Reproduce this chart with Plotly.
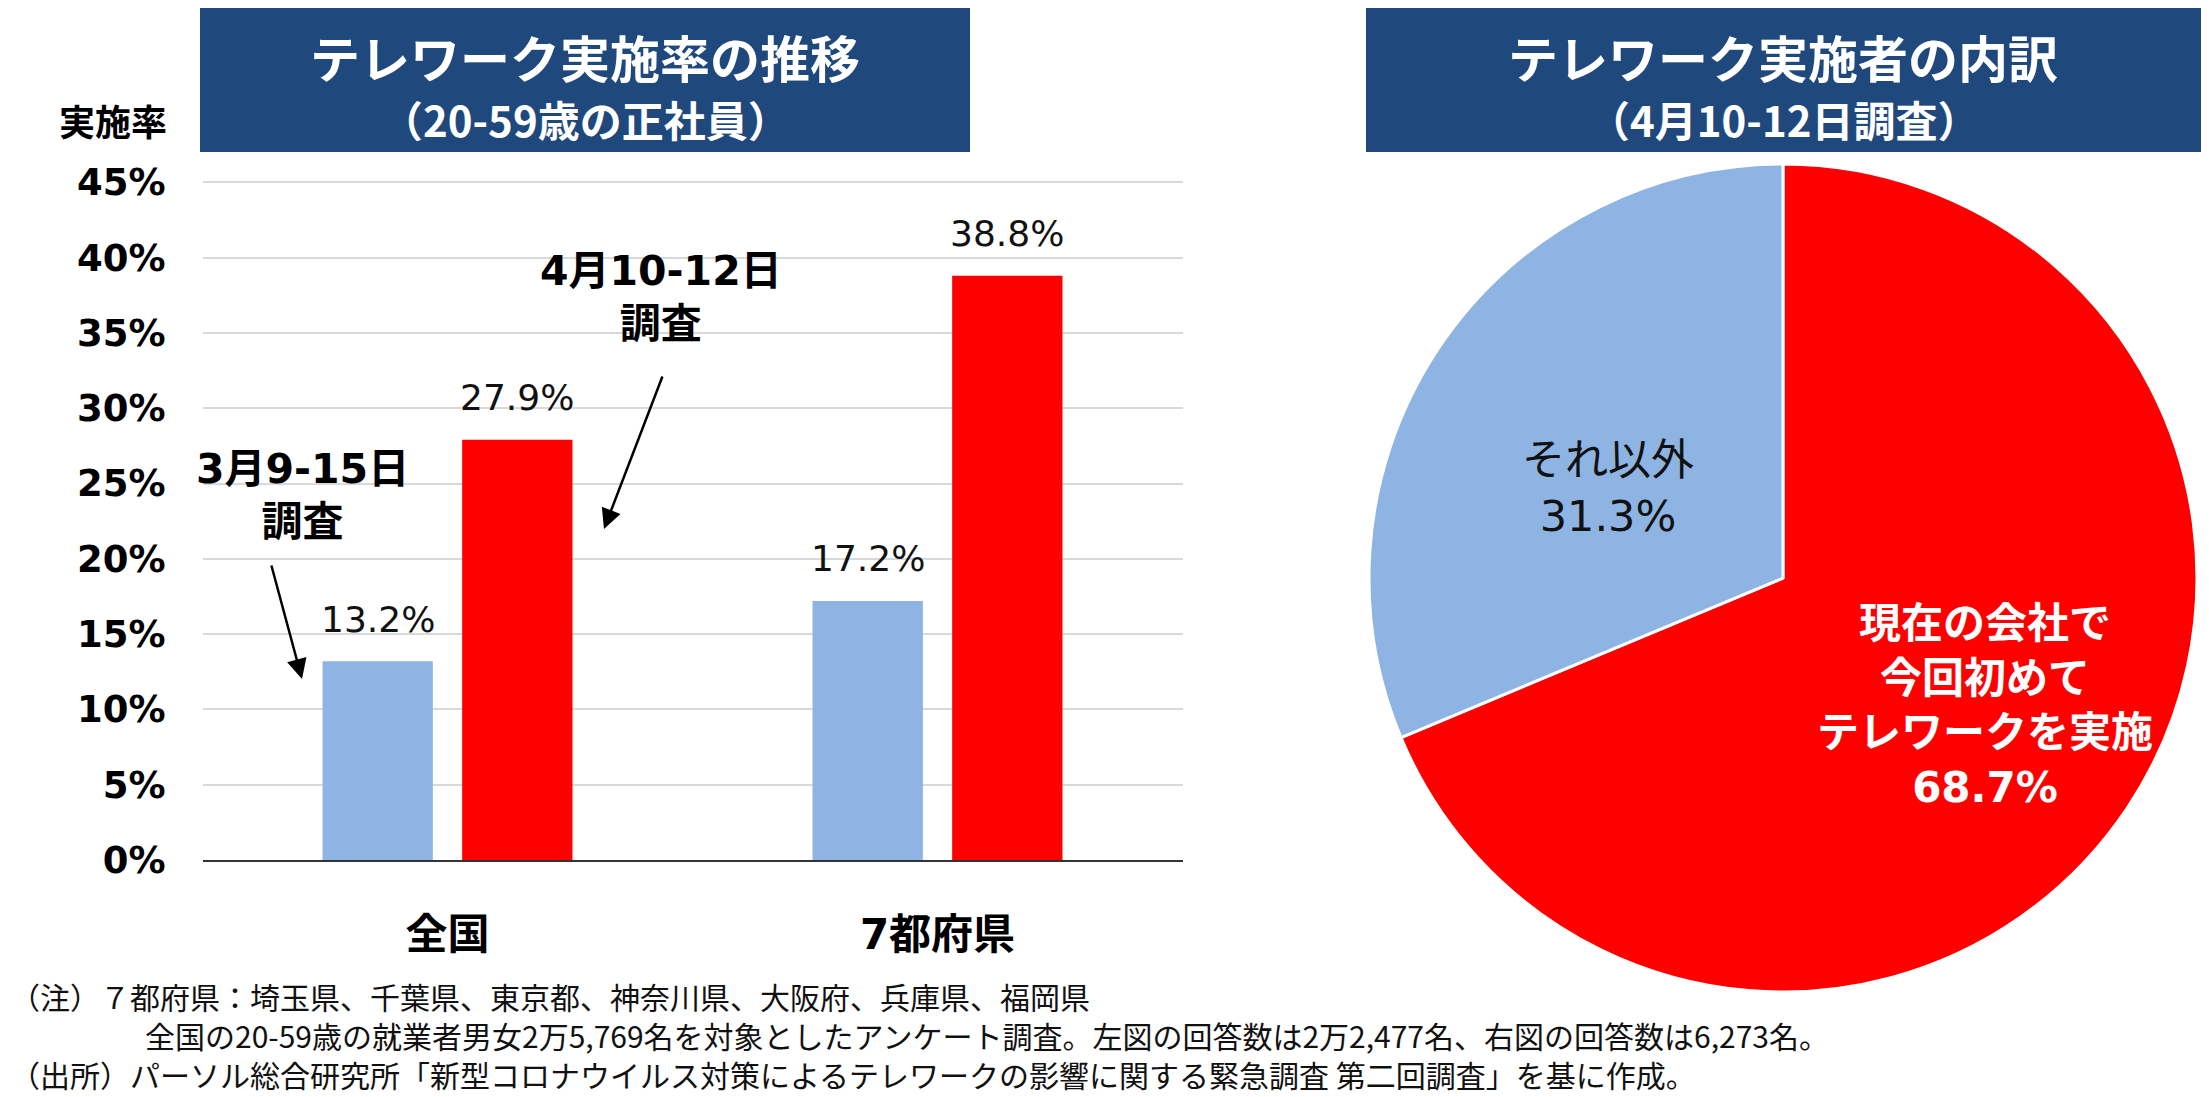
import plotly.graph_objects as go

# ---- data ----
categories = ["全国", "7都府県"]
march_rates = [0.132, 0.172]   # 3月9-15日調査
april_rates = [0.279, 0.388]   # 4月10-12日調査
survey_labels = ["3月9-15日<br>調査", "4月10-12日<br>調査"]

pie_labels = ["現在の会社で<br>今回初めて<br>テレワークを実施", "それ以外"]
pie_values = [68.7, 31.3]

left_title = "テレワーク実施率の推移"
left_subtitle = "（20-59歳の正社員）"
right_title = "テレワーク実施者の内訳"
right_subtitle = "（4月10-12日調査）"
y_label = "実施率"

notes = [
    "（注）７都府県：埼玉県、千葉県、東京都、神奈川県、大阪府、兵庫県、福岡県",
    "\u3000\u3000\u3000\u3000\u2002全国の20-59歳の就業者男女2万5,769名を対象としたアンケート調査。左図の回答数は2万2,477名、右図の回答数は6,273名。",
    "（出所）パーソル総合研究所「新型コロナウイルス対策によるテレワークの影響に関する緊急調査 第二回調査」を基に作成。",
]

# ---- page geometry (pixels) ----
W, H = 2209, 1097
OFFSET = 8  # the page body adds a small margin around the figure
JP = "Noto Sans CJK JP"
MIX = "DejaVu Sans, Noto Sans CJK JP"
NAVY = "#1F497D"
LIGHT_BLUE = "#8EB4E3"
RED = "#FF0000"


def px(x):
    return (x - OFFSET) / W


def py(y):
    return 1 - (y - OFFSET) / H


def label(x, y, text, font, **kw):
    # centred text placed in page pixels
    d = dict(x=px(x), y=py(y), xref="paper", yref="paper", text=text,
             showarrow=False, xanchor="center", yanchor="middle", font=font)
    d.update(kw)
    return d


plot_left, plot_right = 202.5, 1182.5
bargap = 0.43
group_offset = (plot_right - plot_left) / len(categories) * (1 - bargap) / 4

fig = go.Figure()

fig.add_trace(go.Bar(
    x=categories, y=march_rates, name="3月9-15日調査",
    marker=dict(color=LIGHT_BLUE, line=dict(width=0)),
    xaxis="x", yaxis="y",
))
fig.add_trace(go.Bar(
    x=categories, y=april_rates, name="4月10-12日調査",
    marker=dict(color=RED, line=dict(width=0)),
    xaxis="x", yaxis="y",
))

# pie: red slice starts at 12 o'clock, clockwise
pie_cx, pie_cy, pie_r = 1783, 578, 414
fig.add_trace(go.Pie(
    labels=pie_labels, values=pie_values,
    sort=False, direction="clockwise", rotation=0,
    marker=dict(colors=[RED, LIGHT_BLUE], line=dict(color="white", width=3)),
    textinfo="none", hoverinfo="label+percent",
    domain=dict(x=[px(pie_cx - pie_r), px(pie_cx + pie_r)],
                y=[py(pie_cy + pie_r), py(pie_cy - pie_r)]),
))

annotations = []

# value labels above bars
for series, shift in ((march_rates, -group_offset), (april_rates, group_offset)):
    for cat, val in zip(categories, series):
        annotations.append(dict(
            x=cat, y=val, xref="x", yref="y", xshift=shift, yshift=42,
            text=f"{val * 100:.1f}%", showarrow=False,
            xanchor="center", yanchor="middle",
            font=dict(family=MIX, size=36, color="#111111"),
        ))

# survey callouts with arrows
bold_callout = dict(family=MIX, size=41, color="black", weight="bold")
annotations += [
    label(302, 495, survey_labels[0], bold_callout),
    label(661, 297, survey_labels[1], bold_callout),
    dict(x=px(302), y=py(679), xref="paper", yref="paper", text="", showarrow=True,
         ax=-31, ay=-115, arrowhead=2, arrowsize=1.6, arrowwidth=2.5, arrowcolor="black"),
    dict(x=px(604), y=py(529), xref="paper", yref="paper", text="", showarrow=True,
         ax=59, ay=-154, arrowhead=2, arrowsize=1.6, arrowwidth=2.5, arrowcolor="black"),
]

# y-axis caption
annotations.append(label(113, 120, y_label, dict(family=JP, size=36, color="black", weight="bold")))

# title boxes text
for cx, title, sub in ((585, left_title, left_subtitle), (1783, right_title, right_subtitle)):
    annotations.append(label(cx, 56, title, dict(family=JP, size=50, color="white", weight="bold")))
    annotations.append(label(cx, 119, sub, dict(family=JP, size=42, color="white", weight="bold")))

# pie labels
annotations.append(label(1985, 705, f"{pie_labels[0]}<br>{pie_values[0]:.1f}%",
                         dict(family=MIX, size=42, color="white", weight="bold")))
annotations.append(label(1608, 488, f"{pie_labels[1]}<br>{pie_values[1]:.1f}%",
                         dict(family=MIX, size=43, color="#111111")))

# notes at the bottom (one block so lines keep even spacing)
annotations.append(label(OFFSET, 1035, "<br>".join(notes),
                         dict(family=JP, size=30, color="#111111"),
                         xanchor="left", align="left"))

shapes = [
    dict(type="rect", xref="paper", yref="paper", x0=px(200), x1=px(970),
         y0=py(152), y1=py(8), fillcolor=NAVY, line=dict(width=0), layer="below"),
    dict(type="rect", xref="paper", yref="paper", x0=px(1366), x1=px(2202),
         y0=py(152), y1=py(8), fillcolor=NAVY, line=dict(width=0), layer="below"),
]

fig.update_layout(
    width=W, height=H,
    margin=dict(l=0, r=0, t=0, b=0),
    paper_bgcolor="white", plot_bgcolor="white",
    showlegend=False,
    barmode="group", bargap=bargap, bargroupgap=0.21,
    xaxis=dict(
        domain=[px(plot_left), px(plot_right)], anchor="y", automargin=False,
        showline=True, linecolor="#333333", linewidth=2,
        showgrid=False, ticks="", ticklabelstandoff=37,
        tickfont=dict(family=MIX, size=42, color="black", weight="bold"),
    ),
    yaxis=dict(
        domain=[py(860), py(860 - 0.46 * 1506)], anchor="x", automargin=False,
        range=[0, 0.46], dtick=0.05, tickformat=".0%",
        showgrid=True, gridcolor="#D9D9D9", gridwidth=2,
        zeroline=False, showline=False, ticks="", ticklabelstandoff=36,
        tickfont=dict(family="DejaVu Sans", size=37, color="black", weight="bold"),
    ),
    annotations=annotations,
    shapes=shapes,
)

fig.write_html("out.html")
